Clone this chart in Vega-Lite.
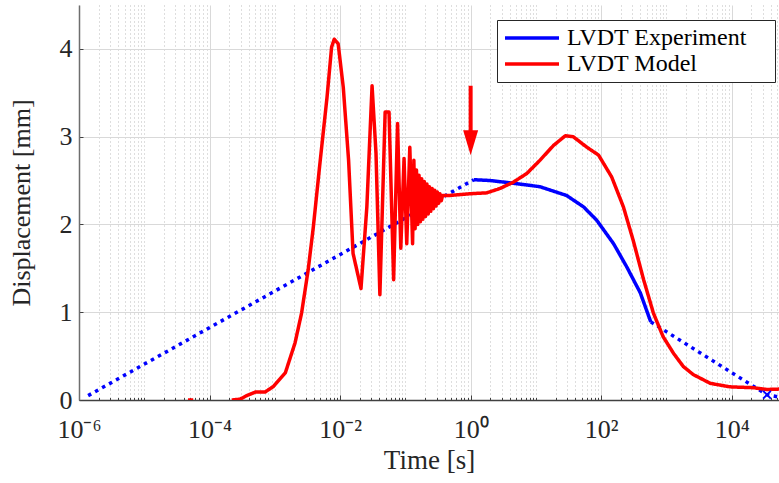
{
  "$schema": "https://vega.github.io/schema/vega-lite/v6.json",
  "width": 700,
  "height": 395,
  "autosize": {"type": "none"},
  "padding": {"left": 79, "top": 5, "right": 0, "bottom": 83},
  "background": "white",
  "config": {
    "view": {"stroke": null},
    "font": "Liberation Serif",
    "axis": {
      "labelFont": "Liberation Serif",
      "titleFont": "Liberation Serif",
      "labelFontSize": 26,
      "titleFontSize": 26,
      "titleFontWeight": "normal",
      "labelColor": "#262626",
      "titleColor": "#262626",
      "domainColor": "#404040",
      "domainWidth": 1.5,
      "tickColor": "#404040",
      "tickWidth": 1,
      "labelFlush": false,
      "labelOverlap": false
    },
    "legend": {
      "orient": "none",
      "legendX": 418,
      "legendY": 15,
      "title": null,
      "symbolType": "M-1,0L4.4,0M24.7,0L24.7,0",
      "symbolSize": 400,
      "symbolStrokeWidth": 3.5,
      "labelFont": "Liberation Serif",
      "labelFontSize": 24,
      "labelColor": "#000000",
      "labelOffset": 40,
      "labelLimit": 400,
      "strokeColor": "#262626",
      "fillColor": "white",
      "padding": 6,
      "rowPadding": 2,
      "cornerRadius": 0
    }
  },
  "layer": [
    {
      "data": {
        "values": [
          {"t": 1.38e-6, "d": 0.05, "series": "LVDT Experiment", "style": "dotted", "seg": "e1"},
          {"t": 1.12, "d": 2.51, "series": "LVDT Experiment", "style": "dotted", "seg": "e1"},
          {"t": 1.12, "d": 2.51, "series": "LVDT Experiment", "style": "solid", "seg": "e2"},
          {"t": 2.0, "d": 2.5, "series": "LVDT Experiment", "style": "solid", "seg": "e2"},
          {"t": 4.47, "d": 2.47, "series": "LVDT Experiment", "style": "solid", "seg": "e2"},
          {"t": 11.5, "d": 2.43, "series": "LVDT Experiment", "style": "solid", "seg": "e2"},
          {"t": 29.5, "d": 2.33, "series": "LVDT Experiment", "style": "solid", "seg": "e2"},
          {"t": 53.7, "d": 2.2, "series": "LVDT Experiment", "style": "solid", "seg": "e2"},
          {"t": 85, "d": 2.05, "series": "LVDT Experiment", "style": "solid", "seg": "e2"},
          {"t": 155, "d": 1.78, "series": "LVDT Experiment", "style": "solid", "seg": "e2"},
          {"t": 245, "d": 1.52, "series": "LVDT Experiment", "style": "solid", "seg": "e2"},
          {"t": 398, "d": 1.22, "series": "LVDT Experiment", "style": "solid", "seg": "e2"},
          {"t": 575, "d": 0.89, "series": "LVDT Experiment", "style": "solid", "seg": "e2"},
          {"t": 575, "d": 0.89, "series": "LVDT Experiment", "style": "dotted", "seg": "e3"},
          {"t": 34700, "d": 0.06, "series": "LVDT Experiment", "style": "dotted", "seg": "e3"},
          {"t": 56000, "d": 0.03, "series": "LVDT Experiment", "style": "dotted", "seg": "e3"},
          {"t": 4.68e-5, "d": 0, "series": "LVDT Model", "style": "solid", "seg": "m0"},
          {"t": 5.62e-5, "d": 0, "series": "LVDT Model", "style": "solid", "seg": "m0"},
          {"t": 2.19e-4, "d": 0, "series": "LVDT Model", "style": "solid", "seg": "m1"},
          {"t": 2.95e-4, "d": 0.01, "series": "LVDT Model", "style": "solid", "seg": "m1"},
          {"t": 3.72e-4, "d": 0.05, "series": "LVDT Model", "style": "solid", "seg": "m1"},
          {"t": 5.01e-4, "d": 0.09, "series": "LVDT Model", "style": "solid", "seg": "m1"},
          {"t": 7.08e-4, "d": 0.09, "series": "LVDT Model", "style": "solid", "seg": "m1"},
          {"t": 9.55e-4, "d": 0.155, "series": "LVDT Model", "style": "solid", "seg": "m1"},
          {"t": 1.45e-3, "d": 0.31, "series": "LVDT Model", "style": "solid", "seg": "m1"},
          {"t": 2.04e-3, "d": 0.65, "series": "LVDT Model", "style": "solid", "seg": "m1"},
          {"t": 2.57e-3, "d": 0.99, "series": "LVDT Model", "style": "solid", "seg": "m1"},
          {"t": 3.24e-3, "d": 1.48, "series": "LVDT Model", "style": "solid", "seg": "m1"},
          {"t": 3.89e-3, "d": 1.97, "series": "LVDT Model", "style": "solid", "seg": "m1"},
          {"t": 4.9e-3, "d": 2.69, "series": "LVDT Model", "style": "solid", "seg": "m1"},
          {"t": 6.31e-3, "d": 3.45, "series": "LVDT Model", "style": "solid", "seg": "m1"},
          {"t": 7.41e-3, "d": 4.02, "series": "LVDT Model", "style": "solid", "seg": "m1"},
          {"t": 8.13e-3, "d": 4.11, "series": "LVDT Model", "style": "solid", "seg": "m1"},
          {"t": 9.33e-3, "d": 4.06, "series": "LVDT Model", "style": "solid", "seg": "m1"},
          {"t": 0.0112, "d": 3.56, "series": "LVDT Model", "style": "solid", "seg": "m1"},
          {"t": 0.0135, "d": 2.73, "series": "LVDT Model", "style": "solid", "seg": "m1"},
          {"t": 0.0158, "d": 1.67, "series": "LVDT Model", "style": "solid", "seg": "m1"},
          {"t": 0.0209, "d": 1.27, "series": "LVDT Model", "style": "solid", "seg": "m1"},
          {"t": 0.0257, "d": 2.2, "series": "LVDT Model", "style": "solid", "seg": "m1"},
          {"t": 0.0309, "d": 3.58, "series": "LVDT Model", "style": "solid", "seg": "m1"},
          {"t": 0.0355, "d": 2.81, "series": "LVDT Model", "style": "solid", "seg": "m1"},
          {"t": 0.0407, "d": 1.2, "series": "LVDT Model", "style": "solid", "seg": "m1"},
          {"t": 0.049, "d": 3.28, "series": "LVDT Model", "style": "solid", "seg": "m1"},
          {"t": 0.0562, "d": 3.28, "series": "LVDT Model", "style": "solid", "seg": "m1"},
          {"t": 0.0661, "d": 1.37, "series": "LVDT Model", "style": "solid", "seg": "m1"},
          {"t": 0.0759, "d": 3.15, "series": "LVDT Model", "style": "solid", "seg": "m1"},
          {"t": 0.0851, "d": 1.73, "series": "LVDT Model", "style": "solid", "seg": "m1"},
          {"t": 0.0955, "d": 2.75, "series": "LVDT Model", "style": "solid", "seg": "m1"},
          {"t": 0.105, "d": 1.78, "series": "LVDT Model", "style": "solid", "seg": "m1"},
          {"t": 0.117, "d": 2.88, "series": "LVDT Model", "style": "solid", "seg": "m1"},
          {"t": 0.129, "d": 1.78, "series": "LVDT Model", "style": "solid", "seg": "m1"},
          {"t": 0.135, "d": 2.73, "series": "LVDT Model", "style": "solid", "seg": "m1"},
          {"t": 0.141, "d": 1.95, "series": "LVDT Model", "style": "solid", "seg": "m1"},
          {"t": 0.148, "d": 2.62, "series": "LVDT Model", "style": "solid", "seg": "m1"},
          {"t": 0.155, "d": 2.0, "series": "LVDT Model", "style": "solid", "seg": "m1"},
          {"t": 0.162, "d": 2.56, "series": "LVDT Model", "style": "solid", "seg": "m1"},
          {"t": 0.17, "d": 2.03, "series": "LVDT Model", "style": "solid", "seg": "m1"},
          {"t": 0.178, "d": 2.52, "series": "LVDT Model", "style": "solid", "seg": "m1"},
          {"t": 0.186, "d": 2.06, "series": "LVDT Model", "style": "solid", "seg": "m1"},
          {"t": 0.195, "d": 2.49, "series": "LVDT Model", "style": "solid", "seg": "m1"},
          {"t": 0.204, "d": 2.09, "series": "LVDT Model", "style": "solid", "seg": "m1"},
          {"t": 0.214, "d": 2.46, "series": "LVDT Model", "style": "solid", "seg": "m1"},
          {"t": 0.224, "d": 2.12, "series": "LVDT Model", "style": "solid", "seg": "m1"},
          {"t": 0.234, "d": 2.43, "series": "LVDT Model", "style": "solid", "seg": "m1"},
          {"t": 0.245, "d": 2.15, "series": "LVDT Model", "style": "solid", "seg": "m1"},
          {"t": 0.257, "d": 2.41, "series": "LVDT Model", "style": "solid", "seg": "m1"},
          {"t": 0.269, "d": 2.18, "series": "LVDT Model", "style": "solid", "seg": "m1"},
          {"t": 0.282, "d": 2.39, "series": "LVDT Model", "style": "solid", "seg": "m1"},
          {"t": 0.295, "d": 2.21, "series": "LVDT Model", "style": "solid", "seg": "m1"},
          {"t": 0.309, "d": 2.37, "series": "LVDT Model", "style": "solid", "seg": "m1"},
          {"t": 0.324, "d": 2.24, "series": "LVDT Model", "style": "solid", "seg": "m1"},
          {"t": 0.339, "d": 2.35, "series": "LVDT Model", "style": "solid", "seg": "m1"},
          {"t": 0.355, "d": 2.27, "series": "LVDT Model", "style": "solid", "seg": "m1"},
          {"t": 0.372, "d": 2.33, "series": "LVDT Model", "style": "solid", "seg": "m1"},
          {"t": 0.479, "d": 2.33, "series": "LVDT Model", "style": "solid", "seg": "m1"},
          {"t": 1.0, "d": 2.35, "series": "LVDT Model", "style": "solid", "seg": "m1"},
          {"t": 1.76, "d": 2.36, "series": "LVDT Model", "style": "solid", "seg": "m1"},
          {"t": 2.82, "d": 2.41, "series": "LVDT Model", "style": "solid", "seg": "m1"},
          {"t": 4.47, "d": 2.48, "series": "LVDT Model", "style": "solid", "seg": "m1"},
          {"t": 7.24, "d": 2.58, "series": "LVDT Model", "style": "solid", "seg": "m1"},
          {"t": 11.5, "d": 2.73, "series": "LVDT Model", "style": "solid", "seg": "m1"},
          {"t": 18.6, "d": 2.9, "series": "LVDT Model", "style": "solid", "seg": "m1"},
          {"t": 28.2, "d": 3.01, "series": "LVDT Model", "style": "solid", "seg": "m1"},
          {"t": 37.2, "d": 3.0, "series": "LVDT Model", "style": "solid", "seg": "m1"},
          {"t": 60.3, "d": 2.88, "series": "LVDT Model", "style": "solid", "seg": "m1"},
          {"t": 91.2, "d": 2.79, "series": "LVDT Model", "style": "solid", "seg": "m1"},
          {"t": 145, "d": 2.54, "series": "LVDT Model", "style": "solid", "seg": "m1"},
          {"t": 219, "d": 2.2, "series": "LVDT Model", "style": "solid", "seg": "m1"},
          {"t": 309, "d": 1.82, "series": "LVDT Model", "style": "solid", "seg": "m1"},
          {"t": 447, "d": 1.37, "series": "LVDT Model", "style": "solid", "seg": "m1"},
          {"t": 631, "d": 0.99, "series": "LVDT Model", "style": "solid", "seg": "m1"},
          {"t": 891, "d": 0.72, "series": "LVDT Model", "style": "solid", "seg": "m1"},
          {"t": 1288, "d": 0.53, "series": "LVDT Model", "style": "solid", "seg": "m1"},
          {"t": 1820, "d": 0.38, "series": "LVDT Model", "style": "solid", "seg": "m1"},
          {"t": 2570, "d": 0.29, "series": "LVDT Model", "style": "solid", "seg": "m1"},
          {"t": 4680, "d": 0.19, "series": "LVDT Model", "style": "solid", "seg": "m1"},
          {"t": 9330, "d": 0.15, "series": "LVDT Model", "style": "solid", "seg": "m1"},
          {"t": 21400, "d": 0.14, "series": "LVDT Model", "style": "solid", "seg": "m1"},
          {"t": 34700, "d": 0.12, "series": "LVDT Model", "style": "solid", "seg": "m1"},
          {"t": 56200, "d": 0.125, "series": "LVDT Model", "style": "solid", "seg": "m1"}
        ]
      },
      "mark": {"type": "line", "strokeWidth": 3.5, "strokeCap": "butt", "strokeJoin": "round", "clip": true},
      "encoding": {
        "x": {
          "field": "t",
          "type": "quantitative",
          "scale": {"type": "log", "domain": [1e-6, 53000], "nice": false},
          "axis": {
            "title": "Time [s]",
            "titleFontSize": 27,
            "values": [1e-6, 2e-6, 3e-6, 4e-6, 5e-6, 6e-6, 7e-6, 8e-6, 9e-6,
                       1e-5, 2e-5, 3e-5, 4e-5, 5e-5, 6e-5, 7e-5, 8e-5, 9e-5,
                       0.0001, 0.0002, 0.0003, 0.0004, 0.0005, 0.0006, 0.0007, 0.0008, 0.0009,
                       0.001, 0.002, 0.003, 0.004, 0.005, 0.006, 0.007, 0.008, 0.009,
                       0.01, 0.02, 0.03, 0.04, 0.05, 0.06, 0.07, 0.08, 0.09,
                       0.1, 0.2, 0.3, 0.4, 0.5, 0.6, 0.7, 0.8, 0.9,
                       1, 2, 3, 4, 5, 6, 7, 8, 9,
                       10, 20, 30, 40, 50, 60, 70, 80, 90,
                       100, 200, 300, 400, 500, 600, 700, 800, 900,
                       1000, 2000, 3000, 4000, 5000, 6000, 7000, 8000, 9000,
                       10000, 20000, 30000, 40000, 50000],
            "labelExpr": "datum.value == 1e-6 ? '10⁻⁶' : datum.value == 0.0001 ? '10⁻⁴' : datum.value == 0.01 ? '10⁻²' : datum.value == 1 ? '10⁰' : datum.value == 100 ? '10²' : datum.value == 10000 ? '10⁴' : ''",
            "grid": true,
            "gridColor": {"condition": {"test": "abs(log(datum.value)/LN10 - round(log(datum.value)/LN10)) < 0.001 && round(log(datum.value)/LN10) % 2 == 0", "value": "#d9d9d9"}, "value": "#bdbdbd"},
            "gridDash": {"condition": {"test": "abs(log(datum.value)/LN10 - round(log(datum.value)/LN10)) < 0.001 && round(log(datum.value)/LN10) % 2 == 0", "value": []}, "value": [1, 3]},
            "gridWidth": 1,
            "tickSize": {"condition": {"test": "abs(log(datum.value)/LN10 - round(log(datum.value)/LN10)) < 0.001 && round(log(datum.value)/LN10) % 2 == 0", "value": -5}, "value": -2.5},
            "labelPadding": 21,
            "titlePadding": 3
          }
        },
        "y": {
          "field": "d",
          "type": "quantitative",
          "scale": {"domain": [0, 4.5], "nice": false},
          "axis": {
            "title": "Displacement [mm]",
            "values": [0, 1, 2, 3, 4],
            "format": "d",
            "grid": true,
            "gridColor": "#d9d9d9",
            "gridWidth": 1,
            "tickSize": -4,
            "domainColor": "#6e6e6e",
            "labelPadding": 11,
            "titlePadding": 25
          }
        },
        "color": {
          "field": "series",
          "type": "nominal",
          "scale": {"domain": ["LVDT Experiment", "LVDT Model"], "range": ["#0000ff", "#ff0000"]}
        },
        "strokeDash": {
          "field": "style",
          "type": "nominal",
          "scale": {"domain": ["solid", "dotted"], "range": [[1, 0], [3.5, 4.5]]},
          "legend": null
        },
        "detail": {"field": "seg"},
        "order": {"field": "t", "type": "quantitative"}
      }
    },
    {
      "data": {"values": [{"t": 34700, "d": 0.06}]},
      "mark": {"type": "point", "shape": "M-1,-1L1,1M-1,1L1,-1", "size": 60, "filled": false, "color": "#0000ff", "strokeWidth": 2, "opacity": 1},
      "encoding": {
        "x": {"field": "t", "type": "quantitative", "scale": {"type": "log", "domain": [1e-6, 53000], "nice": false}},
        "y": {"field": "d", "type": "quantitative"}
      }
    },
    {
      "data": {"values": [{"t": 1, "d": 3.58, "d2": 2.95}]},
      "mark": {"type": "rule", "color": "#ff0000", "strokeWidth": 4},
      "encoding": {
        "x": {"field": "t", "type": "quantitative", "scale": {"type": "log", "domain": [1e-6, 53000], "nice": false}},
        "y": {"field": "d", "type": "quantitative"},
        "y2": {"field": "d2"}
      }
    },
    {
      "data": {"values": [{"t": 1, "d": 2.93}]},
      "mark": {"type": "point", "shape": "M-0.6,-1L0.6,-1L0,1Z", "size": 625, "filled": true, "color": "#ff0000", "opacity": 1},
      "encoding": {
        "x": {"field": "t", "type": "quantitative", "scale": {"type": "log", "domain": [1e-6, 53000], "nice": false}},
        "y": {"field": "d", "type": "quantitative"}
      }
    }
  ]
}
